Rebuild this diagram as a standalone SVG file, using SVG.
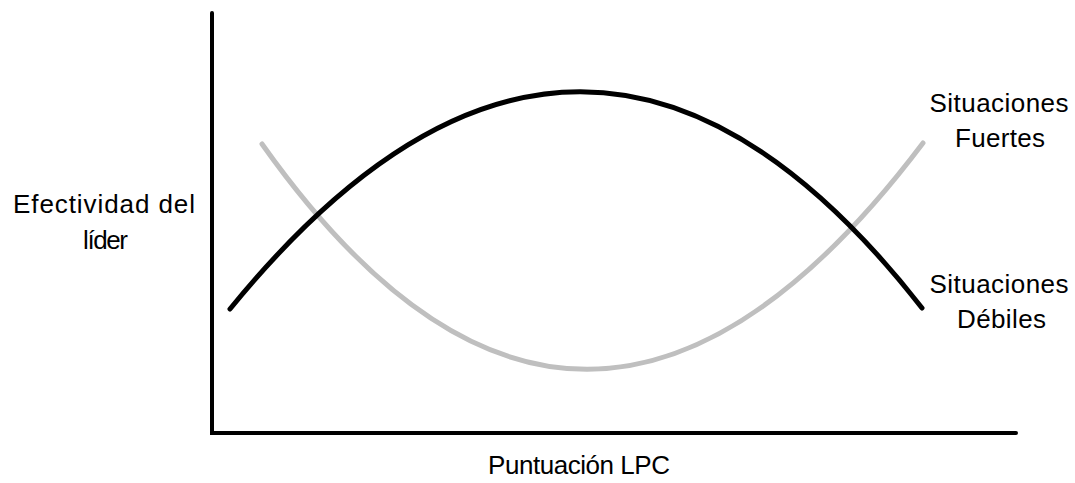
<svg xmlns="http://www.w3.org/2000/svg" width="1075" height="483" viewBox="0 0 1075 483">
<style>
text{font-family:"Liberation Sans","DejaVu Sans",sans-serif;font-size:26px;fill:#000}
.axis{stroke:#000;stroke-width:4;fill:none;stroke-linecap:round;stroke-linejoin:miter}
.curve{fill:none;stroke-width:5;stroke-linecap:round}
</style>
<rect width="1075" height="483" fill="#fff"/>
<g id="axes">
<path class="axis" d="M212,13 V433 H1016"/>
</g>
<g id="connectors">
<path id="strong" class="curve" stroke="#bfbfbf" d="M262,144 Q582,595 923,143"/>
<path id="weak" class="curve" stroke="#000" d="M230,309 Q584,-125 922,308"/>
</g>
<g id="label-y">
<text x="104" y="213" text-anchor="middle" textLength="182" lengthAdjust="spacing">Efectividad del</text>
<text x="105.5" y="249" text-anchor="middle" textLength="45" lengthAdjust="spacing">líder</text>
</g>
<g id="label-x">
<text x="579" y="474" text-anchor="middle" textLength="182" lengthAdjust="spacing">Puntuación LPC</text>
</g>
<g id="label-fuertes">
<text x="999" y="112" text-anchor="middle" textLength="139" lengthAdjust="spacing">Situaciones</text>
<text x="1000" y="147" text-anchor="middle" textLength="90" lengthAdjust="spacing">Fuertes</text>
</g>
<g id="label-debiles">
<text x="999" y="293" text-anchor="middle" textLength="139" lengthAdjust="spacing">Situaciones</text>
<text x="1001.5" y="328" text-anchor="middle" textLength="89" lengthAdjust="spacing">Débiles</text>
</g>
</svg>
